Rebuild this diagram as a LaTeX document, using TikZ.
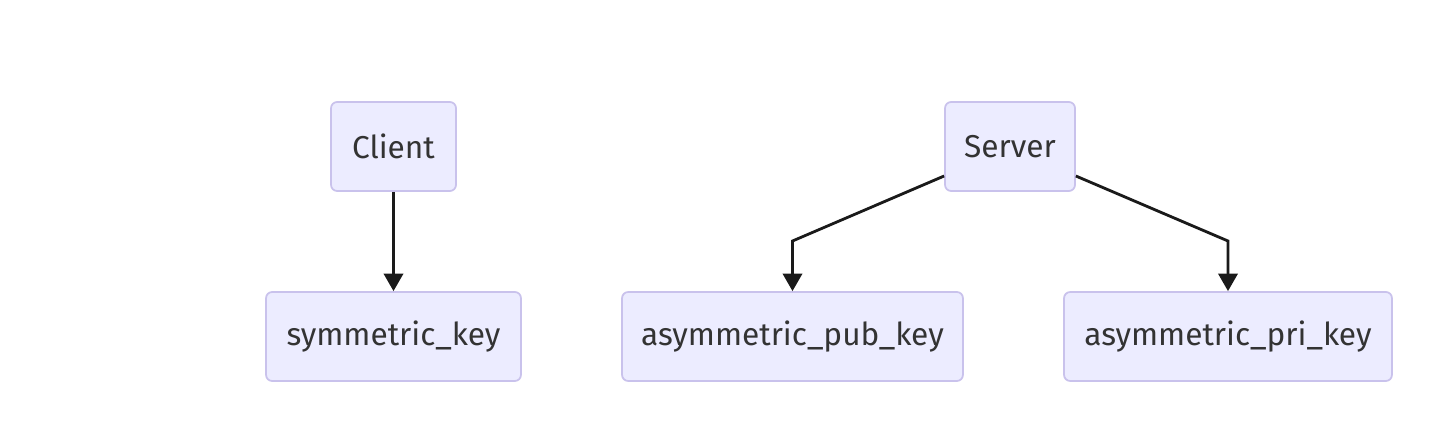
\documentclass[tikz,border=0pt]{standalone}
\usepackage{fontspec}
\setmainfont{Fira Sans}
\usetikzlibrary{calc,positioning,arrows.meta}
\definecolor{boxfill}{HTML}{ECECFF}
\definecolor{boxline}{HTML}{C9C2EC}
\definecolor{txt}{HTML}{333333}
\definecolor{edge}{HTML}{1A1A1A}

\begin{document}
\begin{tikzpicture}[x=0.02cm,y=-0.02cm,
    keybox/.style={draw=boxline,fill=boxfill,line width=1pt,rounded corners=3.5pt,
      minimum height=1.78cm,text=txt,font=\fontsize{18}{20}\selectfont,inner sep=0pt},
    link/.style={draw=edge,line width=1.6pt,-{Triangle[length=10pt,width=11pt]}}]
  \useasboundingbox (0,0) rectangle (1438,442);
  % top row
  \node[keybox,minimum width=2.5cm] (client) at (393.5,146.5) {Client};
  \node[keybox,minimum width=2.6cm] (server) at (1010,146.5) {Server};
  % bottom row
  \node[keybox,minimum width=5.1cm] (symkey) at (393.5,336.5) {symmetric\_key};
  \node[keybox,minimum width=6.82cm] (pubkey) at (792.5,336.5) {asymmetric\_pub\_key};
  \node[keybox,minimum width=6.56cm] (prikey) at (1228,336.5) {asymmetric\_pri\_key};
  % bends
  \coordinate (pubbend) at (pubkey.north |- 0,241);
  \coordinate (pribend) at (prikey.north |- 0,241);
  \draw[link] (client.south) -- (symkey.north);
  \draw[link] (server.west |- 0,176) -- (pubbend) -- (pubkey.north);
  \draw[link] (server.east |- 0,176) -- (pribend) -- (prikey.north);
\end{tikzpicture}
\end{document}
